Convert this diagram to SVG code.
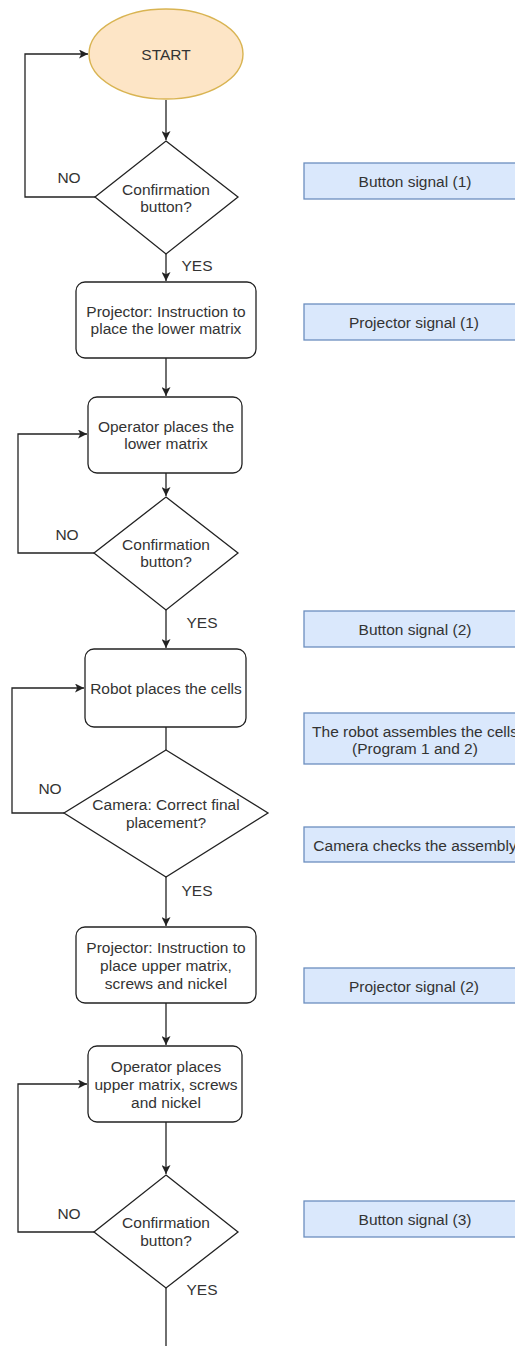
<svg xmlns="http://www.w3.org/2000/svg" width="515" height="1346" viewBox="0 0 515 1346">
  <style>
    text { font-family: "Liberation Sans", Arial, sans-serif; font-size: 15.5px; fill: #333333; text-anchor: middle; }
    .shape { fill: #ffffff; stroke: #222222; stroke-width: 1.3; }
    .start { fill: #fde5c6; stroke: #d9b452; stroke-width: 1.4; }
    .signal { fill: #dae8fc; stroke: #6c8ebf; stroke-width: 1.3; }
    .edge { fill: none; stroke: #222222; stroke-width: 1.3; }
  </style>
  <defs>
    <marker id="arrow" viewBox="0 0 10 10" refX="10" refY="5" markerWidth="9" markerHeight="9" markerUnits="userSpaceOnUse" orient="auto">
      <path d="M0,0 L10,5 L0,10 L2.5,5 Z" fill="#222222"/>
    </marker>
  </defs>

  <rect width="515" height="1346" fill="#ffffff"/>

  <!-- connectors -->
  <g id="connectors">
    <path class="edge" d="M166,100 V140" marker-end="url(#arrow)"/>
    <path class="edge" d="M95,197 H25 V54 H88" marker-end="url(#arrow)"/>
    <path class="edge" d="M166,254 V281" marker-end="url(#arrow)"/>
    <path class="edge" d="M166,358 V396" marker-end="url(#arrow)"/>
    <path class="edge" d="M166,473 V496" marker-end="url(#arrow)"/>
    <path class="edge" d="M94,553 H18 V434 H87" marker-end="url(#arrow)"/>
    <path class="edge" d="M166,610 V648" marker-end="url(#arrow)"/>
    <path class="edge" d="M166,727 V750"/>
    <path class="edge" d="M64,813 H12 V688 H84" marker-end="url(#arrow)"/>
    <path class="edge" d="M166,877 V926" marker-end="url(#arrow)"/>
    <path class="edge" d="M166,1003 V1045" marker-end="url(#arrow)"/>
    <path class="edge" d="M166,1122 V1174" marker-end="url(#arrow)"/>
    <path class="edge" d="M94,1232 H18 V1084 H87" marker-end="url(#arrow)"/>
    <path class="edge" d="M166,1288 V1346"/>
    <text x="69" y="183">NO</text>
    <text x="197" y="271">YES</text>
    <text x="67" y="540">NO</text>
    <text x="202" y="628">YES</text>
    <text x="50" y="794">NO</text>
    <text x="197" y="896">YES</text>
    <text x="69" y="1219">NO</text>
    <text x="202" y="1295">YES</text>
  </g>

  <!-- flow nodes -->
  <g id="start">
    <ellipse class="start" cx="166" cy="54" rx="77" ry="45"/>
    <text x="166" y="60">START</text>
  </g>
  <g id="confirm-1">
    <polygon class="shape" points="166,141 238,197 166,254 95,197"/>
    <text x="166" y="195">Confirmation</text>
    <text x="166" y="212">button?</text>
  </g>
  <g id="projector-lower">
    <rect class="shape" x="76" y="282" width="180" height="76" rx="9"/>
    <text x="166" y="317">Projector: Instruction to</text>
    <text x="166" y="334">place the lower matrix</text>
  </g>
  <g id="operator-lower">
    <rect class="shape" x="88" y="397" width="154" height="76" rx="9"/>
    <text x="166" y="432">Operator places the</text>
    <text x="166" y="449">lower matrix</text>
  </g>
  <g id="confirm-2">
    <polygon class="shape" points="166,497 238,553 166,610 94,553"/>
    <text x="166" y="550">Confirmation</text>
    <text x="166" y="567">button?</text>
  </g>
  <g id="robot-cells">
    <rect class="shape" x="85" y="649" width="161" height="78" rx="9"/>
    <text x="166" y="694">Robot places the cells</text>
  </g>
  <g id="camera-check">
    <polygon class="shape" points="166,750 268,813 166,877 64,813"/>
    <text x="166" y="810">Camera: Correct final</text>
    <text x="166" y="828">placement?</text>
  </g>
  <g id="projector-upper">
    <rect class="shape" x="76" y="927" width="180" height="76" rx="9"/>
    <text x="166" y="953">Projector: Instruction to</text>
    <text x="166" y="971">place upper matrix,</text>
    <text x="166" y="989">screws and nickel</text>
  </g>
  <g id="operator-upper">
    <rect class="shape" x="88" y="1046" width="154" height="76" rx="9"/>
    <text x="166" y="1072">Operator places</text>
    <text x="166" y="1090">upper matrix, screws</text>
    <text x="166" y="1108">and nickel</text>
  </g>
  <g id="confirm-3">
    <polygon class="shape" points="166,1175 238,1232 166,1288 94,1232"/>
    <text x="166" y="1228">Confirmation</text>
    <text x="166" y="1246">button?</text>
  </g>

  <!-- signal notes -->
  <g id="sig-button-1">
    <rect class="signal" x="304" y="163" width="222" height="36"/>
    <text x="415" y="187">Button signal (1)</text>
  </g>
  <g id="sig-projector-1">
    <rect class="signal" x="304" y="304" width="222" height="36"/>
    <text x="414" y="328">Projector signal (1)</text>
  </g>
  <g id="sig-button-2">
    <rect class="signal" x="304" y="611" width="222" height="36"/>
    <text x="415" y="635">Button signal (2)</text>
  </g>
  <g id="sig-robot">
    <rect class="signal" x="304" y="713" width="222" height="51"/>
    <text x="415" y="737">The robot assembles the cells</text>
    <text x="415" y="754">(Program 1 and 2)</text>
  </g>
  <g id="sig-camera">
    <rect class="signal" x="304" y="827" width="222" height="35"/>
    <text x="415" y="851">Camera checks the assembly</text>
  </g>
  <g id="sig-projector-2">
    <rect class="signal" x="304" y="968" width="222" height="35"/>
    <text x="414" y="992">Projector signal (2)</text>
  </g>
  <g id="sig-button-3">
    <rect class="signal" x="304" y="1201" width="222" height="36"/>
    <text x="415" y="1225">Button signal (3)</text>
  </g>
</svg>
